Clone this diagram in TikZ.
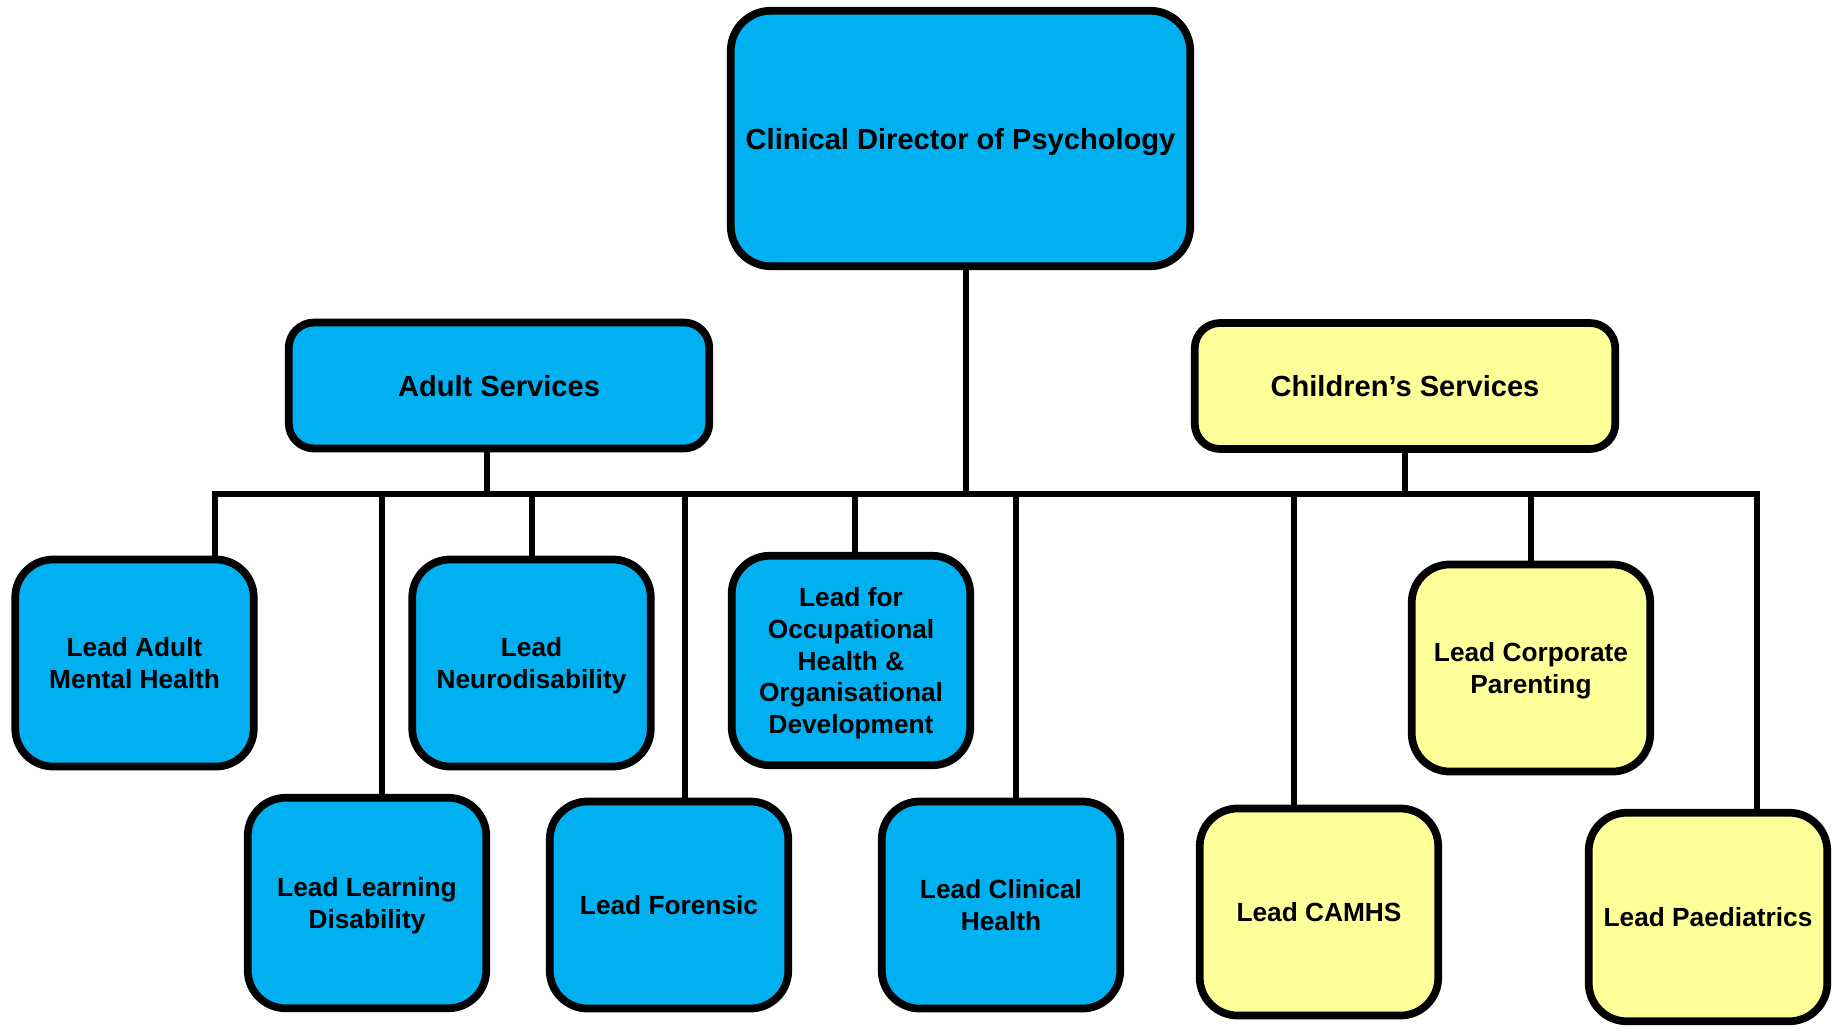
\documentclass[tikz,border=0pt]{standalone}
\usepackage{fontspec}
\setmainfont{Liberation Sans}
\definecolor{boxblue}{HTML}{00B0F0}
\definecolor{boxyellow}{HTML}{FFFF99}
\begin{document}
\begin{tikzpicture}[x=0.75pt,y=-0.75pt,
  box/.style={draw=black, line width=5.8pt, align=center, inner sep=0pt, text=black, text depth=0pt},
  topbox/.style={box, fill=boxblue, rounded corners=30pt, minimum width=344.6pt, minimum height=191.6pt,
     font=\bfseries\fontsize{21.8}{26}\selectfont},
  svcbox/.style={box, rounded corners=19pt, minimum width=315.4pt, minimum height=94.5pt,
     font=\bfseries\fontsize{21.8}{26}\selectfont},
  leaf/.style={box, rounded corners=28.5pt, minimum width=178.9pt, minimum height=155.3pt,
     font=\bfseries\fontsize{19.7}{23.9}\selectfont},
  blue/.style={fill=boxblue},
  yellow/.style={fill=boxyellow},
  conn/.style={line width=5.2pt, line join=miter}]
\useasboundingbox (0,0) rectangle (1839,1026);
% nodes
\node[topbox] (dir) at (960.5,138.5) {Clinical Director of Psychology};
\node[svcbox, blue] (adult) at (499,385.5) {Adult Services};
\node[svcbox, yellow] (child) at (1405,386) {Children’s Services};
\node[leaf, blue] (amh) at (134.5,663) {Lead Adult\\Mental Health};
\node[leaf, blue] (neuro) at (531.5,663) {Lead\\Neurodisability};
\node[leaf, blue, minimum height=157.1pt] (oh) at (851,660.5) {Lead for\\Occupational\\Health \&\\Organisational\\Development};
\node[leaf, yellow] (corp) at (1531,668) {Lead Corporate\\Parenting};
\node[leaf, blue, minimum height=157.9pt] (ld) at (367,903) {Lead Learning\\Disability};
\node[leaf, blue] (foren) at (669,905) {Lead Forensic};
\node[leaf, blue] (clin) at (1001,905) {Lead Clinical\\Health};
\node[leaf, yellow] (camhs) at (1319,912) {Lead CAMHS};
\node[leaf, yellow, minimum height=156.4pt] (paed) at (1708,917) {Lead Paediatrics};
% bus coordinates
\coordinate (bA) at (215,494);
\coordinate (bLD) at (382,494);
\coordinate (bAd) at (487,494);
\coordinate (bN) at (532,494);
\coordinate (bF) at (685,494);
\coordinate (bOH) at (855,494);
\coordinate (bD) at (966,494);
\coordinate (bCl) at (1016,494);
\coordinate (bCA) at (1294,494);
\coordinate (bCh) at (1405,494);
\coordinate (bCo) at (1531,494);
\coordinate (bP) at (1757,494);
% connectors
\draw[conn] (bA |- amh.north) -- (bA) -- (bP) -- (bP |- paed.north);
\draw[conn] (bD |- dir.south) -- (bD);
\draw[conn] (bAd |- adult.south) -- (bAd);
\draw[conn] (bCh |- child.south) -- (bCh);
\draw[conn] (bLD) -- (bLD |- ld.north);
\draw[conn] (bN) -- (bN |- neuro.north);
\draw[conn] (bF) -- (bF |- foren.north);
\draw[conn] (bOH) -- (bOH |- oh.north);
\draw[conn] (bCl) -- (bCl |- clin.north);
\draw[conn] (bCA) -- (bCA |- camhs.north);
\draw[conn] (bCo) -- (bCo |- corp.north);
\end{tikzpicture}
\end{document}
